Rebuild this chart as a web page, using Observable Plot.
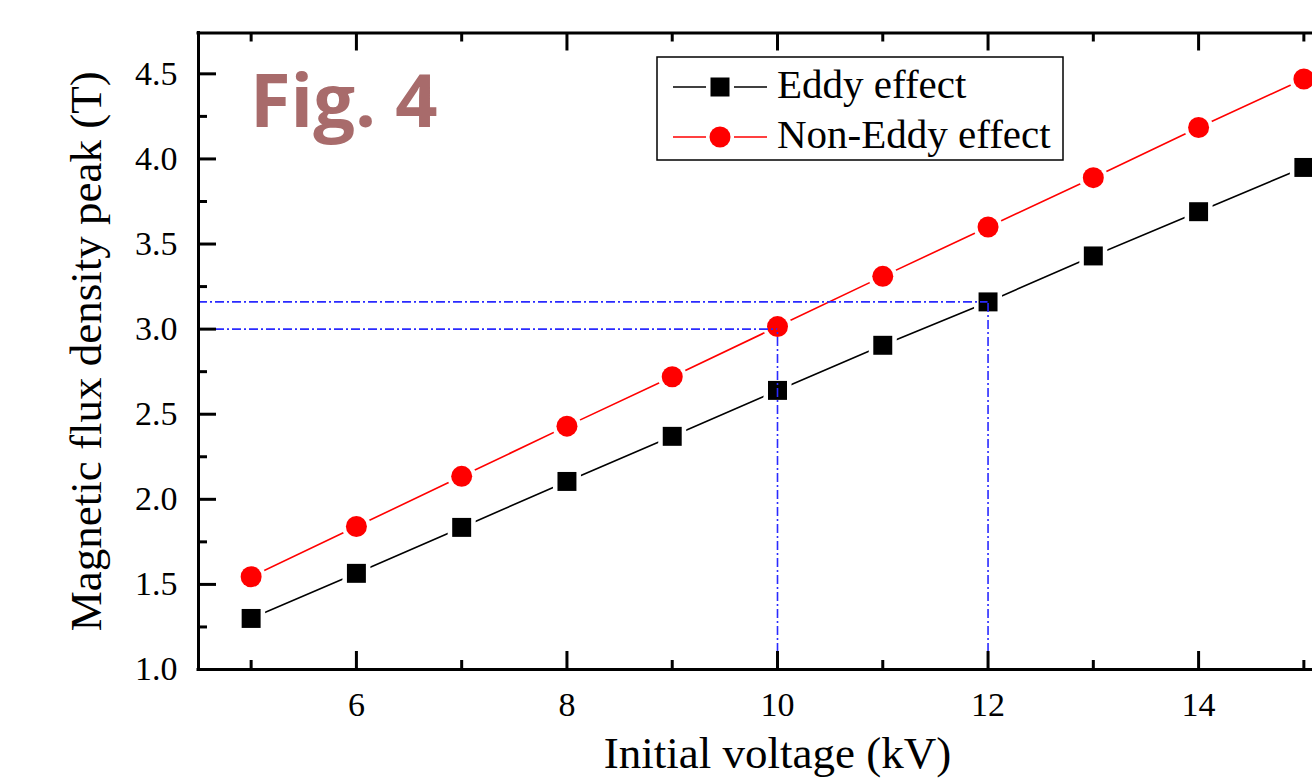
<!DOCTYPE html>
<html>
<head>
<meta charset="utf-8">
<script src="https://cdn.jsdelivr.net/npm/d3@7"></script>
<script src="https://cdn.jsdelivr.net/npm/@observablehq/plot@0.6"></script>
<style>
  html, body { margin: 0; padding: 0; background: #ffffff; }
  #wrap { width: 1312px; height: 778px; overflow: hidden; position: relative; }
  #wrap svg { max-width: none; }
</style>
</head>
<body>
<div id="wrap"></div>
<script>
// ---- data ----
const voltage = [5, 6, 7, 8, 9, 10, 11, 12, 13, 14, 15];
const eddy = [1.30, 1.565, 1.835, 2.105, 2.37, 2.64, 2.905, 3.16, 3.43, 3.69, 3.95];
const nonEddy = [1.545, 1.84, 2.135, 2.43, 2.72, 3.015, 3.31, 3.60, 3.89, 4.185, 4.47];
const seriesNames = ["Eddy effect", "Non-Eddy effect"];
const xMajorTicks = [6, 8, 10, 12, 14];
const xMinorTicks = [5, 7, 9, 11, 13, 15];
const yMajorTicks = [1.0, 1.5, 2.0, 2.5, 3.0, 3.5, 4.0, 4.5];
const yMinorTicks = [1.25, 1.75, 2.25, 2.75, 3.25, 3.75, 4.25];
const refX = [10, 12];
const refY = [3.0, 3.16];
const xDomain = [4.5, 15.5];
const yDomain = [1.0, 4.74];
const xTitle = "Initial voltage (kV)";
const yTitle = "Magnetic flux density peak (T)";
const figLabel = "Fig. 4";

// ---- tables ----
const eddyRows = voltage.map((v, i) => ({v, b: eddy[i]}));
const nonRows = voltage.map((v, i) => ({v, b: nonEddy[i]}));
const refRows = refX.map((x, i) => ({x, y: refY[i]}));

// ---- layout ----
const W = 1312, H = 778;
const mL = 198, mT = 32.5, mB = 109, mR = 0;
const plotH = H - mT - mB;
const plotW = W - mL - mR;
const majorLen = 18, minorLen = 9;
const serif = "'Liberation Serif', 'Times New Roman', serif";

const svg = Plot.plot({
  width: W, height: H,
  marginLeft: mL, marginTop: mT, marginBottom: mB, marginRight: mR,
  x: {domain: xDomain, range: [mL, 1356], axis: null},
  y: {domain: yDomain, range: [H - mB, mT], axis: null},
  style: {background: "#ffffff", fontFamily: serif, color: "black"},
  marks: [
    // series lines
    Plot.line(eddyRows, {x: "v", y: "b", stroke: "#000000", strokeWidth: 1.6}),
    Plot.line(nonRows, {x: "v", y: "b", stroke: "#ff0000", strokeWidth: 1.6}),
    // white halos -> gaps around markers
    Plot.dot(eddyRows, {x: "v", y: "b", symbol: "square", r: 15.8, fill: "#ffffff", stroke: null}),
    Plot.dot(nonRows, {x: "v", y: "b", symbol: "circle", r: 14.5, fill: "#ffffff", stroke: null}),
    // markers
    Plot.dot(eddyRows, {x: "v", y: "b", symbol: "square", r: 10.7, fill: "#000000", stroke: null}),
    Plot.dot(nonRows, {x: "v", y: "b", symbol: "circle", r: 10.5, fill: "#ff0000", stroke: null}),
    // reference dash-dot lines
    Plot.ruleY(refRows, {y: "y", x1: () => xDomain[0], x2: "x", stroke: "#2a2aff", strokeWidth: 1.6, strokeDasharray: "9,3,2,3"}),
    Plot.ruleX(refRows, {x: "x", y1: () => yDomain[0], y2: "y", stroke: "#2a2aff", strokeWidth: 1.6, strokeDasharray: "9,3,2,3"}),
    // axis lines
    Plot.ruleX([xDomain[0]], {stroke: "black", strokeWidth: 3, strokeLinecap: "square"}),
    Plot.ruleY([yDomain[0]], {stroke: "black", strokeWidth: 3, strokeLinecap: "square"}),
    Plot.ruleY([yDomain[1]], {stroke: "black", strokeWidth: 3, strokeLinecap: "square"}),
    // inward ticks: bottom
    Plot.tickX(xMajorTicks, {x: d => d, insetTop: plotH - majorLen, stroke: "black", strokeWidth: 3}),
    Plot.tickX(xMinorTicks, {x: d => d, insetTop: plotH - minorLen, stroke: "black", strokeWidth: 3}),
    // top
    Plot.tickX(xMajorTicks, {x: d => d, insetBottom: plotH - majorLen, stroke: "black", strokeWidth: 3}),
    Plot.tickX(xMinorTicks, {x: d => d, insetBottom: plotH - minorLen, stroke: "black", strokeWidth: 3}),
    // left
    Plot.tickY(yMajorTicks, {y: d => d, insetRight: plotW - majorLen, stroke: "black", strokeWidth: 3}),
    Plot.tickY(yMinorTicks, {y: d => d, insetRight: plotW - minorLen, stroke: "black", strokeWidth: 3}),
    // tick labels
    Plot.text(xMajorTicks, {x: d => d, frameAnchor: "bottom", dy: 46, lineAnchor: "bottom", textAnchor: "middle", text: d => String(d), fontSize: 34, fill: "black"}),
    Plot.text(yMajorTicks, {y: d => d, frameAnchor: "left", dx: -21, textAnchor: "end", lineAnchor: "middle", text: d => d.toFixed(1), fontSize: 34, fill: "black"}),
    // axis titles
    Plot.text([xTitle], {x: () => (xDomain[0] + xDomain[1]) / 2, frameAnchor: "bottom", dy: 98, lineAnchor: "bottom", textAnchor: "middle", text: d => d, fontSize: 45, fill: "black"}),
    Plot.text([yTitle], {frameAnchor: "left", dx: -98, rotate: -90, lineAnchor: "bottom", textAnchor: "middle", text: d => d, fontSize: 45, fill: "black"})
  ]
});

document.getElementById("wrap").appendChild(svg);

// ---- decorations: Fig. label and legend ----
const s = d3.select(svg);
s.append("text")
  .attr("x", 250).attr("y", 127)
  .attr("text-anchor", "start")
  .attr("font-family", "'Open Sans', 'Noto Sans', sans-serif")
  .attr("font-weight", 700)
  .attr("font-size", 74)
  .attr("fill", "#a86b6b")
  .text(figLabel);

const lg = s.append("g");
lg.append("rect").attr("x", 657).attr("y", 57).attr("width", 406).attr("height", 103)
  .attr("fill", "#ffffff").attr("stroke", "black").attr("stroke-width", 1.5);
const rows = [
  {name: seriesNames[0], color: "#000000", sym: "square", cy: 87},
  {name: seriesNames[1], color: "#ff0000", sym: "circle", cy: 137}
];
rows.forEach(r => {
  lg.append("line").attr("x1", 673).attr("x2", 706).attr("y1", r.cy).attr("y2", r.cy)
    .attr("stroke", r.color).attr("stroke-width", 1.5);
  lg.append("line").attr("x1", 734).attr("x2", 767).attr("y1", r.cy).attr("y2", r.cy)
    .attr("stroke", r.color).attr("stroke-width", 1.5);
  if (r.sym === "square") {
    lg.append("rect").attr("x", 720 - 9.5).attr("y", r.cy - 9.5).attr("width", 19).attr("height", 19).attr("fill", r.color);
  } else {
    lg.append("circle").attr("cx", 720).attr("cy", r.cy).attr("r", 10.5).attr("fill", r.color);
  }
  lg.append("text").attr("x", 777).attr("y", r.cy + 11)
    .attr("text-anchor", "start")
    .attr("font-family", serif).attr("font-size", 41).attr("fill", "black")
    .text(r.name);
});
</script>
</body>
</html>
